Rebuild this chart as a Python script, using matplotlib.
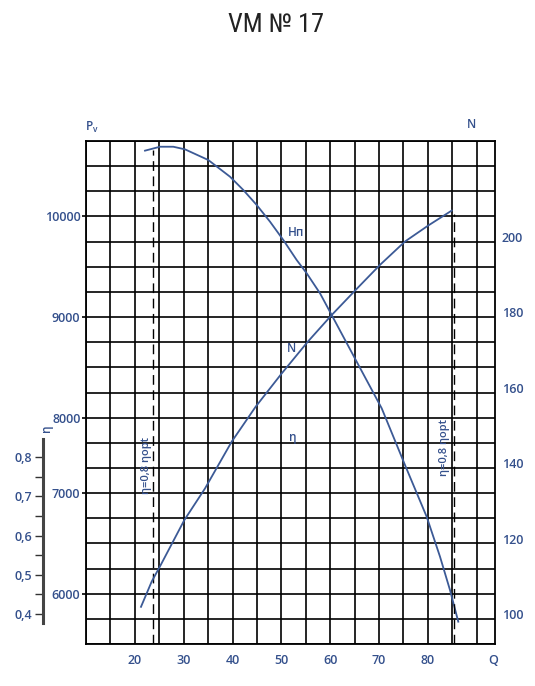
import matplotlib
matplotlib.use("Agg")
import matplotlib.pyplot as plt
import numpy as np

plt.rcParams['font.family'] = ['Open Sans', 'DejaVu Sans']
plt.rcParams['font.weight'] = 'semibold'
plt.rcParams['mathtext.default'] = 'regular'

# Hп (Pv) curve: Q, Pv
hp_q = [22.08, 25.15, 27.88, 30.27, 35.04, 39.49, 42.21, 44.95, 47.68,
        50.40, 53.14, 55.19, 57.92, 60.31, 65.43, 70.55, 75.32, 79.76,
        82.49, 84.53, 86.23]
hp_pv = [10654, 10693, 10693, 10667, 10561, 10395, 10263, 10114, 9948,
         9766, 9567, 9435, 9236, 9020, 8556, 8093, 7529, 7015,
         6618, 6287, 5972]

# N curve: Q, N
n_q = [21.26, 23.45, 25.30, 30.13, 34.37, 39.83, 44.75, 50.07, 55.40,
       60.31, 65.55, 70.20, 75.32, 80.03, 84.88]
n_val = [101.9, 108.6, 113.0, 124.9, 133.3, 145.7, 155.0, 163.8, 172.2,
         179.3, 186.4, 192.6, 198.8, 203.0, 207.0]

# limits of η = 0,8 ηopt
q_eta_lo = 23.66
q_eta_hi = 85.4
pv_eta_lo_top = 10660
n_eta_hi_top = 206.0

q_ticks = [20, 30, 40, 50, 60, 70, 80]
pv_tick_pos = [6250, 7250, 8000, 9000, 10000]
pv_tick_labels = ['6000', '7000', '8000', '9000', '10000']
n_ticks = [100, 120, 140, 160, 180, 200]
eta_ticks = [0.4, 0.5, 0.6, 0.7, 0.8]
eta_labels = ['0,4', '0,5', '0,6', '0,7', '0,8']

blue_txt = '#34508c'
blue_line = '#3c5a96'

W, H = 535, 686
fig = plt.figure(figsize=(W / 100, H / 100), dpi=100)


def fx(px):
    return px / W


def fy(py):
    return 1 - py / H


ax = fig.add_axes([fx(86), fy(644), fx(495) - fx(86), fy(141) - fy(644)])
ax.set_xlim(10, 93.75)
ax.set_ylim(5750, 10750)

ax.set_xticks(q_ticks)
ax.set_xticks(np.arange(10, 91, 5), minor=True)
ax.set_yticks(pv_tick_pos)
ax.set_yticklabels(pv_tick_labels)
ax.set_yticks(np.arange(5750, 10751, 250), minor=True)
ax.grid(which='both', color='black', linewidth=1.2)
ax.tick_params(axis='x', which='both', length=0, pad=7,
               labelsize=9, labelcolor=blue_txt)
ax.tick_params(axis='y', which='major', length=3, width=1.2, pad=1,
               labelsize=9, labelcolor=blue_txt)
ax.tick_params(axis='y', which='minor', length=0)
for s in ax.spines.values():
    s.set_linewidth(1.3)

ax.plot(hp_q, hp_pv, color=blue_line, linewidth=1.3)
ax.vlines(q_eta_lo, 5750, pv_eta_lo_top, colors='black', linewidth=1.0,
          linestyles=(0, (7, 4)))

ax2 = ax.twinx()
ax2.set_ylim(92.04, 225.46)
ax2.set_yticks(n_ticks)
ax2.tick_params(axis='y', length=0, pad=5, labelsize=9, labelcolor=blue_txt)
ax2.plot(n_q, n_val, color=blue_line, linewidth=1.3)
ax2.vlines(q_eta_hi, 92.04, n_eta_hi_top, colors='black', linewidth=1.0,
           linestyles=(0, (7, 4)))
for s in ax2.spines.values():
    s.set_visible(False)

# curve labels
fig.text(fx(296), fy(233), 'Hп', fontsize=8.5, color=blue_txt,
         ha='center', va='center')
fig.text(fx(292), fy(349), 'N', fontsize=8.5, color=blue_txt,
         ha='center', va='center')
fig.text(fx(293), fy(438), 'η', fontsize=8.5, color=blue_txt,
         ha='center', va='center')
fig.text(fx(146), fy(465), 'η=0,8 ηopt', fontsize=8, color=blue_txt,
         rotation=90, ha='center', va='center')
fig.text(fx(445), fy(448), 'η=0,8 ηopt', fontsize=8, color=blue_txt,
         rotation=90, ha='center', va='center')

# axis names
fig.text(fx(92), fy(127), 'P$_{v}$', fontsize=8.5, color=blue_txt,
         ha='center', va='center')
fig.text(fx(472), fy(125), 'N', fontsize=8.5, color=blue_txt,
         ha='center', va='center')
fig.text(fx(493), fy(660), 'Q', fontsize=9, color=blue_txt,
         ha='center', va='center')

# separate η scale
ax3 = fig.add_axes([fx(43), fy(623), 0.001, fy(439) - fy(623)])
ax3.set_ylim(0.377, 0.846)
ax3.set_xticks([])
ax3.set_yticks(eta_ticks)
ax3.set_yticklabels(eta_labels)
ax3.set_yticks([0.45, 0.55, 0.65, 0.75], minor=True)
ax3.tick_params(axis='y', which='both', length=6, width=1, color='#333333',
                pad=2, labelsize=9, labelcolor=blue_txt)
for k in ['top', 'right', 'bottom']:
    ax3.spines[k].set_visible(False)
ax3.spines['left'].set_linewidth(2.2)
ax3.spines['left'].set_color('#444444')
ax3.patch.set_visible(False)
fig.text(fx(47), fy(428), 'η', fontsize=8.5, color=blue_txt, rotation=90,
         ha='center', va='center')

fig.text(fx(276), fy(25), 'VM № 17', fontsize=19, color='#222222',
         family=['Roboto Condensed', 'Liberation Sans Narrow', 'DejaVu Sans'],
         fontstretch='condensed', fontweight='normal',
         ha='center', va='center')

fig.savefig('out.png', dpi=100)
